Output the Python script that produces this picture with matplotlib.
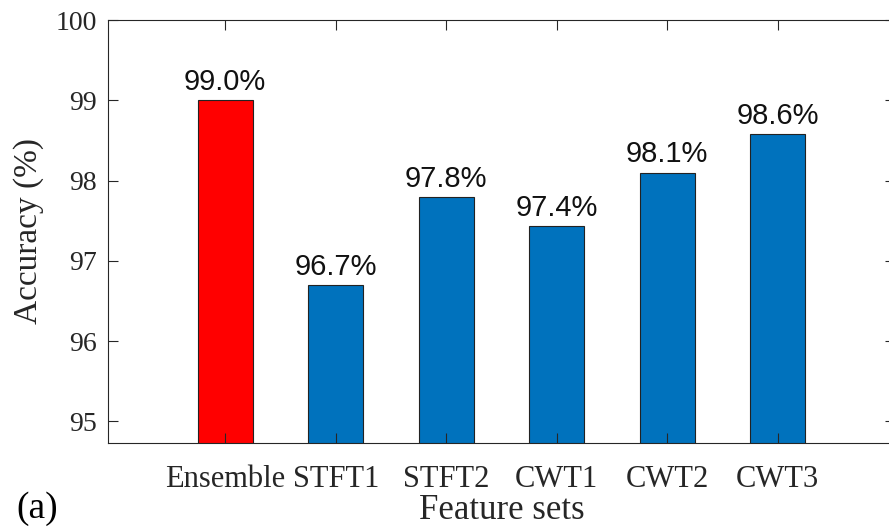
import matplotlib
matplotlib.use("Agg")
import matplotlib.pyplot as plt

# dados
categorias = ["Ensemble", "STFT1", "STFT2", "CWT1", "CWT2", "CWT3"]
acuracia = [99.0, 96.7, 97.8, 97.43, 98.1, 98.58]
rotulos = ["99.0%", "96.7%", "97.8%", "97.4%", "98.1%", "98.6%"]
cores = ["#FF0000", "#0072BD", "#0072BD", "#0072BD", "#0072BD", "#0072BD"]
yticks = [95, 96, 97, 98, 99, 100]

fig = plt.figure(figsize=(8.89, 5.29), dpi=100)

# eixo vai um pouco além da borda direita (como no original)
ax = fig.add_axes([108 / 889, 1 - 443 / 529, 787 / 889, 423 / 529])

x = list(range(1, len(categorias) + 1))
ax.bar(x, acuracia, width=0.5, color=cores, edgecolor="#222222", linewidth=0.8)

for xi, v, r in zip(x, acuracia, rotulos):
    ax.text(xi, v + 0.05, r, ha="center", va="bottom",
            fontfamily="Liberation Sans", fontsize=21, color="#111111")

ax.set_xlim(-0.06, 7.06)
ax.set_ylim(94.73, 100)
ax.set_xticks(x)
ax.set_xticklabels(categorias)
ax.set_yticks(yticks)

serif = "Liberation Serif"
for lab in ax.get_xticklabels():
    lab.set_fontfamily(serif)
    lab.set_fontsize(22)
    lab.set_color("#262626")
for lab in ax.get_yticklabels():
    lab.set_fontfamily(serif)
    lab.set_fontsize(20)
    lab.set_color("#262626")

ax.tick_params(direction="in", length=7, width=0.8, color="#262626",
               top=True, right=True)
ax.tick_params(axis="x", pad=16)
ax.tick_params(axis="y", pad=8)
for s in ax.spines.values():
    s.set_color("#262626")
    s.set_linewidth(0.8)

ax.set_ylabel("Accuracy (%)", fontfamily=serif, fontsize=24, color="#262626",
              labelpad=8)
ax.set_xlabel("Feature sets", fontfamily=serif, fontsize=25, color="#262626",
              labelpad=0)

# rótulo do painel
fig.text(16 / 889, 1 - 518 / 529, "(a)", fontfamily=serif, fontsize=27,
         color="black", ha="left", va="baseline")

fig.savefig("out.png", dpi=100)
